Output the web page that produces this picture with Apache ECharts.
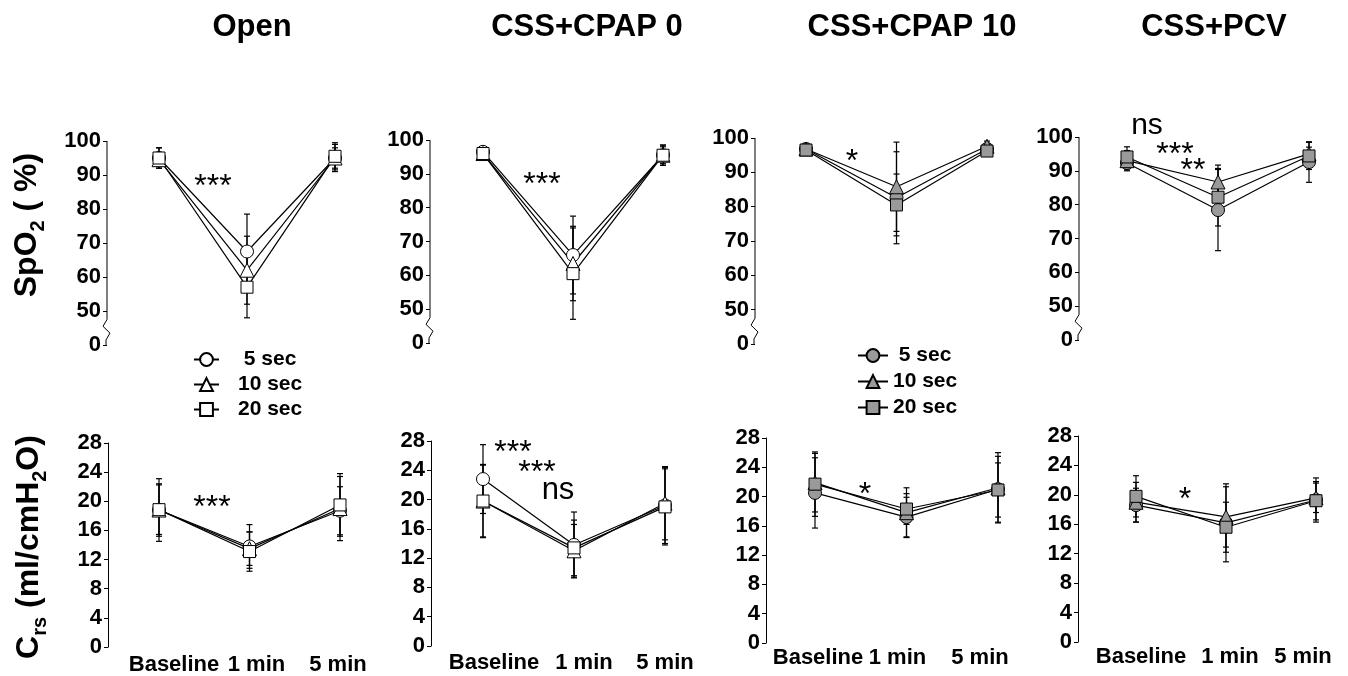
<!DOCTYPE html>
<html>
<head>
<meta charset="utf-8">
<script src="https://cdn.jsdelivr.net/npm/echarts@6/dist/echarts.min.js"></script>
<style>
  html, body { margin: 0; padding: 0; background: #fff; }
  #main { width: 1348px; height: 676px; }
</style>
</head>
<body>
<div id="main"></div>
<script>
var times = ['Baseline', '1 min', '5 min'];
var groups = ['Open', 'CSS+CPAP 0', 'CSS+CPAP 10', 'CSS+PCV'];
var durations = ['5 sec', '10 sec', '20 sec'];
// SpO2 axis is broken: the bottom tick (40) is shown as 0
var spo2Ticks = ['0', '50', '60', '70', '80', '90', '100'];
var crsTicks = ['0', '4', '8', '12', '16', '20', '24', '28'];

// means, rows = 5 sec / 10 sec / 20 sec, columns = Baseline / 1 min / 5 min
var spo2Open = [[95, 67.5, 95], [94.5, 62, 95], [95, 57, 95.5]];
var spo2OpenSd = [[3, 11, 4], [2, 10, 3], [3, 9, 4]];
var spo2Cpap0 = [[96.5, 66, 95.5], [96, 63.5, 95.5], [96, 60.5, 95.5]];
var spo2Cpap0Sd = [[1, 11.5, 3], [1, 11, 2.5], [1, 13.5, 3]];
var spo2Cpap10 = [[96.8, 82.6, 96.8], [96.8, 85.8, 97.6], [96.5, 80.5, 96.2]];
var spo2Cpap10Sd = [[1.5, 13.4, 1.5], [1.5, 13, 1.5], [1.5, 9, 1.5]];
var spo2Pcv = [[92.3, 78.4, 92.6], [93, 86.7, 95], [94.1, 82.2, 94.4]];
var spo2PcvSd = [[2, 12, 6], [3, 5, 2], [3, 8.5, 4]];

var crsOpen = [[18.8, 13.8, 18.7], [18.8, 13.5, 19], [18.85, 13.1, 19.5]];
var crsOpenSd = [[4.3, 3, 3.3], [3.6, 2.3, 4.4], [3.4, 2.7, 4.3]];
var crsCpap0 = [[22.8, 13.8, 19.2], [19.8, 13, 19.5], [19.8, 13.4, 19]];
var crsCpap0Sd = [[4.7, 4.5, 5.2], [5, 3.6, 5], [4.9, 3.8, 5.2]];
var crsCpap10 = [[20.5, 17.2, 21], [21.9, 17.8, 21.2], [21.7, 18.3, 20.9]];
var crsCpap10Sd = [[4.8, 2.7, 4.5], [4, 3.4, 4.8], [4.4, 2.1, 3.7]];
var crsPcv = [[18.6, 16.2, 19.3], [19, 17, 19.6], [19.8, 15.6, 19.2]];
var crsPcvSd = [[2.3, 5.3, 3], [2.7, 4.1, 2], [2.8, 3.4, 2.6]];

var panelMeans = [spo2Open, spo2Cpap0, spo2Cpap10, spo2Pcv, crsOpen, crsCpap0, crsCpap10, crsPcv];
var panelSds = [spo2OpenSd, spo2Cpap0Sd, spo2Cpap10Sd, spo2PcvSd, crsOpenSd, crsCpap0Sd, crsCpap10Sd, crsPcvSd];

// layout: y-axis x, first point x, last point x, top, bottom (pixels)
var layout = [
  [107, 159, 335, 141, 345], [430, 483, 663, 140, 343], [755, 806, 987, 138, 344], [1079, 1127, 1309, 137, 340],
  [108, 159, 340, 443, 648], [431, 483, 665, 441, 646], [766, 815, 998, 438, 643], [1078, 1136, 1316, 436, 642]
];
var labelMargin = [7, 6, 4, 4];
// horizontal nudge of the x labels in the bottom row (px)
var labelShift = [[15, 7, -2], [11, 10, 0], [3, -9, -18], [5, 4, -13]];
var FONT = '"Liberation Sans", Arial, sans-serif';
var symbols = ['circle', 'triangle', 'rect'];
var symbolSizes = [13, 14, 12];

var chart = echarts.init(document.getElementById('main'));

function xRich(shifts) {
  var rich = {};
  shifts.forEach(function (s, i) {
    rich['r' + i] = {
      color: '#000', fontSize: 22, fontWeight: 'bold', fontFamily: FONT,
      padding: [0, s < 0 ? -2 * s : 0, 0, s > 0 ? 2 * s : 0]
    };
  });
  return rich;
}

var grids = [], xAxes = [], yAxes = [], series = [];
layout.forEach(function (l, p) {
  var top = p < 4;
  grids.push({ left: l[1], top: l[3], width: l[2] - l[1], height: l[4] - l[3] });
  xAxes.push({
    type: 'category', gridIndex: p, data: times, boundaryGap: false,
    axisLine: { show: false }, axisTick: { show: false },
    axisLabel: {
      show: !top, interval: 0, hideOverlap: false,
      margin: top ? 8 : labelMargin[p - 4],
      formatter: function (v, i) { return '{r' + i + '|' + v + '}'; },
      rich: xRich(labelShift[p % 4])
    }
  });
  yAxes.push({
    type: 'value', gridIndex: p, offset: l[1] - l[0],
    min: top ? 40 : 0, max: top ? 100 : 28, interval: top ? 10 : 4,
    splitLine: { show: false },
    axisLine: { show: !top, lineStyle: { color: '#000', width: 1 } },
    axisTick: { show: true, length: 4, lineStyle: { color: '#000', width: 1 } },
    axisLabel: {
      color: '#000', fontSize: 22, fontWeight: 'bold', fontFamily: FONT, margin: 6,
      formatter: function (v, i) { return top ? spo2Ticks[i] : crsTicks[i]; }
    }
  });
  var gray = (p % 4) >= 2;
  durations.forEach(function (d, k) {
    series.push({
      type: 'line', name: d, xAxisIndex: p, yAxisIndex: p, z: 3,
      data: panelMeans[p][k],
      symbol: symbols[k], symbolSize: symbolSizes[k],
      lineStyle: { color: '#000', width: 1.2 },
      itemStyle: { color: gray ? '#9a9a9a' : '#fff', borderColor: '#000', borderWidth: 1 },
      emphasis: { disabled: true }
    });
  });
  var errData = [];
  durations.forEach(function (d, k) {
    times.forEach(function (t, j) {
      errData.push([j, panelMeans[p][k][j], panelSds[p][k][j]]);
    });
  });
  series.push({
    type: 'custom', name: 'sd', xAxisIndex: p, yAxisIndex: p, z: 1,
    data: errData, encode: { x: 0, y: 1 },
    renderItem: function (params, api) {
      var x = api.value(0), m = api.value(1), s = api.value(2);
      var hi = api.coord([x, m + s]), lo = api.coord([x, m - s]);
      var st = { stroke: '#000', lineWidth: 1.2 };
      return {
        type: 'group', children: [
          { type: 'line', shape: { x1: hi[0], y1: hi[1], x2: lo[0], y2: lo[1] }, style: st },
          { type: 'line', shape: { x1: hi[0] - 3, y1: hi[1], x2: hi[0] + 3, y2: hi[1] }, style: st },
          { type: 'line', shape: { x1: lo[0] - 3, y1: lo[1], x2: lo[0] + 3, y2: lo[1] }, style: st }
        ]
      };
    }
  });
});

var legendText = { color: '#000', fontSize: 21, fontWeight: 'bold', fontFamily: FONT };
var option = {
  animation: false,
  backgroundColor: '#fff',
  grid: grids, xAxis: xAxes, yAxis: yAxes, series: series,
  legend: [
    {
      orient: 'vertical', left: 188, top: 344, itemWidth: 25, itemHeight: 16, itemGap: 4,
      textStyle: Object.assign({ padding: [0, 0, 0, 14] }, legendText),
      formatter: function (n) { return n.length < 6 ? ' ' + n : n; },
      data: durations
    },
    {
      orient: 'vertical', left: 852, top: 340, itemWidth: 30, itemHeight: 16, itemGap: 5,
      textStyle: legendText,
      formatter: function (n) { return n.length < 6 ? ' ' + n : n; },
      data: durations.map(function (d) { return { name: d, itemStyle: { color: '#9a9a9a' } }; })
    }
  ]
};
chart.setOption(option);

function txt(x, y, s, size, weight) {
  return {
    type: 'text', x: x, y: y, z: 10,
    style: {
      text: s, fill: '#000', fontSize: size, fontWeight: weight || 'normal', fontFamily: FONT,
      align: 'center', verticalAlign: 'middle', textAlign: 'center', textVerticalAlign: 'middle'
    }
  };
}

var titleX = [252, 587, 912, 1214];
var graphics = [];
groups.forEach(function (g, i) { graphics.push(txt(titleX[i], 27, g, 31, 'bold')); });

// significance marks
var marks = [
  [213, 187, '***', 32], [542, 185, '***', 32], [852, 162, '*', 32],
  [1147, 126, 'ns', 30], [1175, 155, '***', 32], [1193, 171, '**', 32],
  [212, 508, '***', 32], [513, 453, '***', 32], [537, 473, '***', 32], [558, 490, 'ns', 31],
  [865, 495, '*', 32], [1185, 500, '*', 32]
];
marks.forEach(function (m) { graphics.push(txt(m[0], m[1], m[2], m[3])); });

// axis titles with subscripts
var richBase = { fontSize: 32, fontWeight: 'bold', fontFamily: FONT, lineHeight: 34, verticalAlign: 'top' };
var richSub = { fontSize: 20, fontWeight: 'bold', fontFamily: FONT, lineHeight: 20, padding: [17, 0, 0, 0], verticalAlign: 'top' };
[[28, 225, '{a|SpO}{s|2}{a| ( %)}'], [30, 547, '{a|C}{s|rs}{a| (ml/cmH}{s|2}{a|O)}']].forEach(function (t) {
  graphics.push({
    type: 'text', x: t[0], y: t[1], rotation: Math.PI / 2, z: 10,
    style: {
      text: t[2], fill: '#000', rich: { a: richBase, s: richSub },
      align: 'center', verticalAlign: 'middle', textAlign: 'center', textVerticalAlign: 'middle'
    }
  });
});

// broken SpO2 axes
for (var p = 0; p < 4; p++) {
  var ax = layout[p][0];
  var y = function (v) { return chart.convertToPixel({ yAxisIndex: p }, v); };
  graphics.push({
    type: 'polyline', z: 5,
    shape: { points: [[ax, y(100)], [ax, y(47.5)], [ax - 4, y(45.5)], [ax + 3, y(43.5)], [ax - 1, y(41.5)], [ax - 1, y(40)]] },
    style: { stroke: '#000', lineWidth: 1, fill: null }
  });
}

chart.setOption({ graphic: graphics });
</script>
</body>
</html>
